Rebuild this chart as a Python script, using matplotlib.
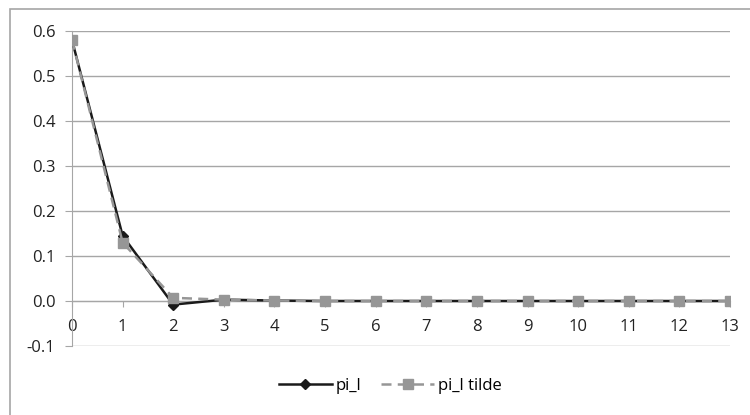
import numpy as np
import matplotlib
matplotlib.use('Agg')
import matplotlib.pyplot as plt
from matplotlib.patches import Rectangle

plt.rcParams['font.family'] = ['Open Sans', 'DejaVu Sans']

# datos
lags = list(range(14))
pi_l = [0.580, 0.145, -0.008, 0.003, 0.001, 0.0, 0.0, 0.0, 0.0, 0.0, 0.0, 0.0, 0.0, 0.0]
pi_l_tilde = [0.580, 0.130, 0.007, 0.003, 0.001, 0.0, 0.0, 0.0, 0.0, 0.0, 0.0, 0.0, 0.0, 0.0]
y_ticks = [-0.1, 0.0, 0.1, 0.2, 0.3, 0.4, 0.5, 0.6]

fig = plt.figure(figsize=(7.5, 4.15), dpi=100)
W, H = 750, 415

# marco exterior del grafico
fig.patches.append(Rectangle((10 / W, -0.1), 1.1, 1 - 9 / H + 0.1,
                             transform=fig.transFigure, fill=False,
                             edgecolor='#a6a6a6', linewidth=1.2))

ax = fig.add_axes([72 / W, 1 - 346 / H, (730 - 72) / W, (346 - 31) / H])

grid_col = '#a6a6a6'
for y in y_ticks:
    ax.axhline(y, color=grid_col, linewidth=1.0, zorder=0)

ax.plot(lags, pi_l, color='#1a1a1a', linewidth=1.8, marker='D',
        markersize=5.5, label='pi_l', zorder=3)
ax.plot(lags, pi_l_tilde, color='#969696', linewidth=1.8, linestyle=(0, (4, 2.5)),
        marker='s', markersize=6.5, label='pi_l tilde', zorder=4)

ax.set_xlim(0, 13)
ax.set_ylim(-0.1, 0.6)
ax.set_xticks(lags)
ax.set_yticks(y_ticks)
ax.set_yticklabels([f'{v:.1f}' for v in y_ticks])

for s in ['top', 'right']:
    ax.spines[s].set_visible(False)
ax.spines['bottom'].set_position(('data', 0))
ax.spines['bottom'].set_color(grid_col)
ax.spines['left'].set_color(grid_col)

ax.tick_params(axis='y', length=5, color=grid_col, labelsize=12,
               labelcolor='#222222', pad=7)
ax.tick_params(axis='x', length=4, color=grid_col, labelsize=12,
               labelcolor='#222222', pad=9)

ax.legend(loc='center', bbox_to_anchor=(390 / W, 1 - 386 / H),
          bbox_transform=fig.transFigure, ncol=2, frameon=False,
          fontsize=12, handlelength=3.2, columnspacing=1.2, handletextpad=0.2)

plt.savefig('out.png', dpi=100)
